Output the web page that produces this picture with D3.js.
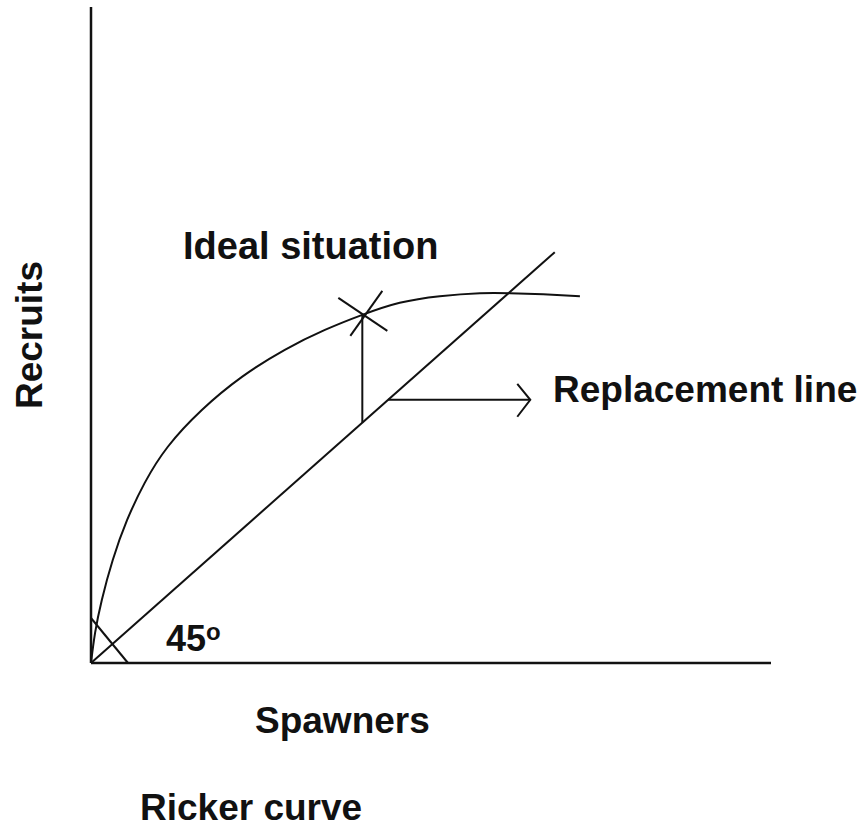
<!DOCTYPE html>
<html>
<head>
<meta charset="utf-8">
<script src="https://cdnjs.cloudflare.com/ajax/libs/d3/7.8.5/d3.min.js"></script>
<style>
	html, body { margin: 0; padding: 0; background: #fff; }
	svg { display: block; }
	.lbl { font-family: "Liberation Sans", Arial, sans-serif; font-weight: bold; fill: #111; }
	.ln { fill: none; stroke: #111; stroke-width: 2; }
	.axis-line { stroke: #111; stroke-width: 2.5; }
</style>
</head>
<body>
<svg class="chartArea"></svg>
<script>
// Ricker curve (spawners, recruits)
var spawners = [0, 0.06, 0.16, 0.32, 0.53, 0.79, 1.13, 1.63, 2.22, 2.85, 3.44, 3.99, 4.54, 5.13, 5.72, 6.16, 6.65, 7.19];
var recruits = [0, 0.50, 1.05, 1.71, 2.37, 2.99, 3.59, 4.20, 4.75, 5.20, 5.53, 5.78, 5.98, 6.09, 6.14, 6.14, 6.12, 6.09];

// Replacement line R = S
var replacementS = [0, 6.82];

// Ideal situation point on the curve
var idealS = 3.99, idealR = 5.78;

// Arrow from the replacement line towards its label
var arrowS = [4.37, 6.46];

// Angle tick near the origin (S on x axis, R on y axis)
var angleS = 0.544, angleR = 0.747;

var axisMaxS = 10, axisMaxR = 10.89;

function draw_ricker(areaID) {

	var width = 865, height = 827;
	var origin = {x: 91, y: 663};

	var x = d3.scaleLinear()
		.domain([0, axisMaxS])
		.range([origin.x, origin.x + 680]);

	var y = d3.scaleLinear()
		.domain([0, axisMaxR])
		.range([origin.y, origin.y - 656]);

	var chart = d3.select("." + areaID)
		.attr("width", width)
		.attr("height", height);

	// Axes
	chart.append("line")
		.attr("class", "axis-line")
		.attr("x1", x(0)).attr("y1", y(0))
		.attr("x2", x(axisMaxS)).attr("y2", y(0));
	chart.append("line")
		.attr("class", "axis-line")
		.attr("x1", x(0)).attr("y1", y(0))
		.attr("x2", x(0)).attr("y2", y(axisMaxR));

	// Ricker curve
	var data = spawners.map(function(s, i) { return {s: s, r: recruits[i]}; });
	var valueline = d3.line()
		.x(function(d) { return x(d.s); })
		.y(function(d) { return y(d.r); })
		.curve(d3.curveNatural);
	chart.append("path")
		.datum(data)
		.attr("class", "ln")
		.attr("d", valueline);

	// Replacement line
	chart.append("line")
		.attr("class", "ln")
		.attr("x1", x(replacementS[0])).attr("y1", y(replacementS[0]))
		.attr("x2", x(replacementS[1])).attr("y2", y(replacementS[1]));

	// Vertical from line to ideal point
	chart.append("line")
		.attr("class", "ln")
		.attr("x1", x(idealS)).attr("y1", y(idealS))
		.attr("x2", x(idealS)).attr("y2", y(idealR));

	// Cross mark at ideal point
	var cx = x(idealS), cy = y(idealR);
	chart.append("line").attr("class", "ln")
		.attr("x1", cx - 24).attr("y1", cy - 17)
		.attr("x2", cx + 25).attr("y2", cy + 16);
	chart.append("line").attr("class", "ln")
		.attr("x1", cx - 12).attr("y1", cy + 21)
		.attr("x2", cx + 20).attr("y2", cy - 24);

	// Arrow to label
	var ay = y(arrowS[0]);
	chart.append("line").attr("class", "ln")
		.attr("x1", x(arrowS[0])).attr("y1", ay)
		.attr("x2", x(arrowS[1])).attr("y2", ay);
	chart.append("path").attr("class", "ln")
		.attr("d", "M" + (x(arrowS[1]) - 13) + "," + (ay - 16) +
			"L" + x(arrowS[1]) + "," + ay +
			"L" + (x(arrowS[1]) - 13) + "," + (ay + 17));

	// Angle tick
	chart.append("line").attr("class", "ln")
		.attr("stroke-width", 1.5)
		.attr("x1", x(0)).attr("y1", y(angleR))
		.attr("x2", x(angleS)).attr("y2", y(0));

	// Labels
	chart.append("text").attr("class", "lbl")
		.attr("x", 183).attr("y", 259)
		.style("font-size", "38px")
		.text("Ideal situation");

	chart.append("text").attr("class", "lbl")
		.attr("x", 553).attr("y", 402)
		.style("font-size", "37px")
		.text("Replacement line");

	chart.append("text").attr("class", "lbl")
		.attr("x", 255).attr("y", 733)
		.style("font-size", "37px")
		.text("Spawners");

	chart.append("text").attr("class", "lbl")
		.attr("x", 140).attr("y", 820)
		.style("font-size", "37px")
		.text("Ricker curve");

	chart.append("text").attr("class", "lbl")
		.attr("transform", "translate(42,335) rotate(-90)")
		.attr("text-anchor", "middle")
		.style("font-size", "37px")
		.text("Recruits");

	var deg = chart.append("text").attr("class", "lbl")
		.attr("x", 166).attr("y", 651)
		.style("font-size", "36px")
		.text("45");
	deg.append("tspan")
		.attr("dy", -11)
		.style("font-size", "24px")
		.text("o");
}

draw_ricker("chartArea");
</script>
</body>
</html>
